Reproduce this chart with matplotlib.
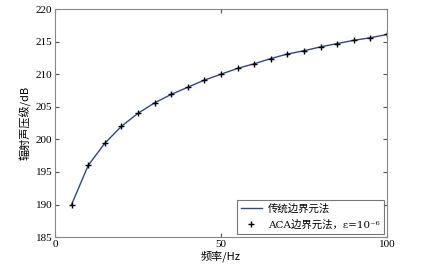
import matplotlib
matplotlib.use("Agg")
import matplotlib.pyplot as plt

freq = [5, 10, 15, 20, 25, 30, 35, 40, 45, 50,
        55, 60, 65, 70, 75, 80, 85, 90, 95, 100]
spl_bem = [190.0, 196.0, 199.4, 202.0, 204.0, 205.6, 206.9, 208.0, 209.1, 210.0,
           210.9, 211.6, 212.4, 213.1, 213.6, 214.2, 214.7, 215.2, 215.6, 216.1]
spl_aca = [190.0, 196.0, 199.4, 202.0, 204.0, 205.6, 206.9, 208.0, 209.1, 210.0,
           210.9, 211.6, 212.4, 213.1, 213.6, 214.2, 214.7, 215.2, 215.6, 216.1]
xticks = [0, 50, 100]
yticks = [185, 190, 195, 200, 205, 210, 215, 220]

cjk = ["Noto Sans CJK SC", "DejaVu Sans"]
serif = ["Liberation Serif", "Noto Sans CJK SC"]
legend_font = ["DejaVu Serif", "Noto Sans CJK SC"]

fig = plt.figure(figsize=(4.28, 2.67), dpi=100)
ax = fig.add_axes([0.1285, 0.112, 0.7755, 0.854])

ax.plot(freq, spl_bem, color="#2e4593", lw=1.0, label="传统边界元法")
ax.plot(freq, spl_aca, "+", color="black", ms=5, mew=1.0,
        label="ACA边界元法，ε=10⁻⁶")

ax.set_xlim(0, 100)
ax.set_ylim(185, 220)
ax.set_xticks(xticks)
ax.set_yticks(yticks)
ax.tick_params(direction="in", top=True, right=True, length=3,
               labelsize=8, color="#555555", pad=2)
for lab in ax.get_xticklabels() + ax.get_yticklabels():
    lab.set_family(serif)
for s in ax.spines.values():
    s.set_color("#888888")
    s.set_linewidth(0.8)

ax.set_xlabel("频率/Hz", family=cjk, fontsize=8, labelpad=1)
ax.set_ylabel("辐射声压级/dB", family=cjk, fontsize=8, labelpad=3)

leg = ax.legend(loc="lower right", prop={"family": legend_font, "size": 7.5},
                fancybox=False, edgecolor="#555555", borderaxespad=0.3,
                handlelength=2.0, handletextpad=0.6, borderpad=0.4,
                labelspacing=0.55)
leg.get_frame().set_linewidth(0.8)

fig.savefig("out.png", dpi=100)
